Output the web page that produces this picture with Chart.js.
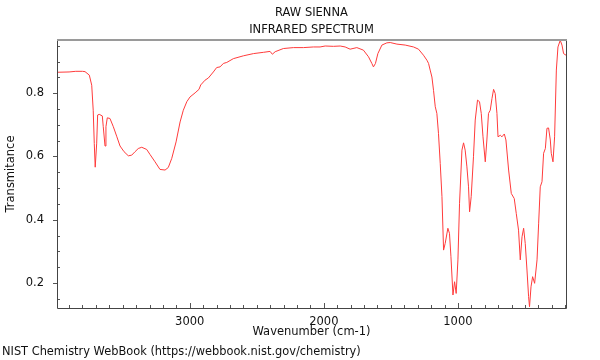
<!DOCTYPE html>
<html>
<head>
<meta charset="utf-8">
<script src="https://cdn.jsdelivr.net/npm/chart.js@4.4.1/dist/chart.umd.min.js"></script>
<style>
html,body{margin:0;padding:0;background:#fff;}
#wrap{width:600px;height:360px;}
</style>
</head>
<body>
<div id="wrap"><canvas id="c" width="600" height="360"></canvas></div>
<script>
const wavenumbers = [3990,3900,3850,3800,3781,3749,3731,3720,3712,3705,3694,3687,3675,3652,3645,3632,3625,3615,3595,3570,3545,3520,3490,3458,3433,3408,3384,3358,3321,3296,3259,3222,3184,3160,3134,3102,3072,3048,3022,2998,2960,2931,2918,2886,2861,2824,2799,2774,2749,2724,2675,2600,2525,2451,2401,2384,2363,2302,2227,2152,2078,2028,1990,1928,1878,1841,1804,1754,1705,1667,1642,1630,1615,1597,1567,1530,1505,1455,1393,1331,1294,1257,1231,1219,1207,1194,1182,1169,1157,1145,1132,1119,1107,1095,1075,1063,1052,1037,1025,1013,1000,988,970,958,946,933,921,913,901,884,871,854,839,826,813,796,784,772,759,746,734,722,709,701,684,672,654,642,622,602,580,565,548,535,522,510,498,485,473,466,455,443,428,410,398,386,373,361,348,336,324,311,304,291,279,266,254,237,224,212,194];
const transmittance = [0.866,0.867,0.869,0.869,0.868,0.857,0.825,0.746,0.641,0.566,0.642,0.731,0.733,0.728,0.694,0.633,0.694,0.722,0.720,0.694,0.664,0.633,0.615,0.602,0.604,0.615,0.625,0.629,0.622,0.606,0.583,0.559,0.557,0.565,0.594,0.646,0.709,0.746,0.773,0.788,0.801,0.812,0.826,0.841,0.848,0.867,0.881,0.883,0.894,0.897,0.909,0.918,0.925,0.929,0.932,0.923,0.931,0.941,0.944,0.944,0.946,0.946,0.949,0.948,0.949,0.946,0.939,0.944,0.936,0.915,0.894,0.883,0.894,0.925,0.952,0.959,0.960,0.955,0.952,0.946,0.939,0.920,0.904,0.894,0.873,0.851,0.809,0.757,0.736,0.673,0.578,0.473,0.304,0.325,0.373,0.357,0.283,0.162,0.204,0.167,0.273,0.452,0.620,0.643,0.620,0.567,0.504,0.425,0.473,0.599,0.715,0.778,0.773,0.736,0.662,0.583,0.652,0.736,0.746,0.783,0.812,0.799,0.736,0.662,0.667,0.662,0.671,0.652,0.557,0.483,0.467,0.420,0.367,0.273,0.346,0.373,0.325,0.241,0.157,0.125,0.188,0.220,0.199,0.273,0.389,0.504,0.520,0.610,0.625,0.689,0.690,0.652,0.610,0.583,0.662,0.873,0.946,0.967,0.952,0.925,0.920];
const xTickValues = [1000, 2000, 3000];
const yTickValues = [0.2, 0.4, 0.6, 0.8];
const titleLines = ['RAW SIENNA', 'INFRARED SPECTRUM'];
const xAxisTitle = 'Wavenumber (cm-1)';
const yAxisTitle = 'Transmitance';
const footerText = 'NIST Chemistry WebBook (https://webbook.nist.gov/chemistry)';

const FONT = '"DejaVu Sans", sans-serif';
const points = wavenumbers.map((w, i) => ({x: w, y: transmittance[i]}));

const decor = {
  id: 'decor',
  afterDraw(chart) {
    const ctx = chart.ctx;
    const a = chart.chartArea;
    const xs = chart.scales.x, ys = chart.scales.y;
    ctx.save();
    ctx.strokeStyle = '#555';
    ctx.lineWidth = 1;
    ctx.beginPath();
    for (let w = 200; w <= 3900; w += 100) {
      const px = Math.round(xs.getPixelForValue(w)) + 0.5;
      const major = (w % 1000 === 0);
      const len = major ? 5 : 3;
      ctx.moveTo(px, a.bottom);
      ctx.lineTo(px, a.bottom - len);
    }
    for (let k = 3; k <= 19; k++) {
      const v = k * 0.05;
      const py = Math.round(ys.getPixelForValue(v)) + 0.5;
      const major = (k % 4 === 0);
      if (major) {
        ctx.moveTo(a.left - 4, py);
        ctx.lineTo(a.left, py);
      } else {
        ctx.moveTo(a.left, py);
        ctx.lineTo(a.left + 3, py);
      }
    }
    ctx.stroke();
    ctx.strokeStyle = '#444';
    ctx.beginPath();
    ctx.moveTo(a.left + 0.5, a.top);
    ctx.lineTo(a.left + 0.5, a.bottom + 0.5);
    ctx.lineTo(a.right + 0.5, a.bottom + 0.5);
    ctx.lineTo(a.right + 0.5, a.top);
    ctx.stroke();
    ctx.strokeStyle = '#9a9a9a';
    ctx.lineWidth = 2;
    ctx.beginPath();
    ctx.moveTo(a.left, a.top);
    ctx.lineTo(a.right + 1, a.top);
    ctx.stroke();
    ctx.fillStyle = '#111';
    ctx.font = '11.5px ' + FONT;
    ctx.textAlign = 'center';
    ctx.textBaseline = 'middle';
    const cx = (a.left + a.right) / 2;
    ctx.fillText(titleLines[0], cx, 13);
    ctx.fillText(titleLines[1], cx, 30);
    ctx.fillText(xAxisTitle, cx, 332);
    ctx.save();
    ctx.translate(11, (a.top + a.bottom) / 2);
    ctx.rotate(-Math.PI / 2);
    ctx.fillText(yAxisTitle, 0, 0);
    ctx.restore();
    ctx.textAlign = 'left';
    ctx.font = '11.4px ' + FONT;
    ctx.fillText(footerText, 2, 352);
    ctx.restore();
  }
};

new Chart(document.getElementById('c'), {
  type: 'line',
  data: {
    datasets: [{
      data: points,
      borderColor: '#ff3b3b',
      borderWidth: 1,
      pointRadius: 0,
      tension: 0,
      fill: false
    }]
  },
  options: {
    responsive: false,
    animation: false,
    devicePixelRatio: 1,
    layout: {padding: {top: 40, right: 34, left: 0, bottom: 0}},
    plugins: {legend: {display: false}, title: {display: false}, tooltip: {enabled: false}},
    scales: {
      x: {
        type: 'linear', reverse: true, min: 194, max: 3990,
        afterBuildTicks: s => { s.ticks = xTickValues.map(v => ({value: v})); },
        afterFit: s => { s.height = 52; },
        grid: {display: false},
        border: {display: false},
        ticks: {font: {family: FONT, size: 11.5}, color: '#111', padding: -1, maxRotation: 0, callback: v => String(v)}
      },
      y: {
        type: 'linear', min: 0.121, max: 0.968,
        afterBuildTicks: s => { s.ticks = yTickValues.map(v => ({value: v})); },
        afterFit: s => { s.width = 57; },
        grid: {display: false},
        border: {display: false},
        ticks: {font: {family: FONT, size: 11.5}, color: '#111', padding: 5, callback: v => v.toFixed(1)}
      }
    }
  },
  plugins: [decor]
});
</script>
</body>
</html>
